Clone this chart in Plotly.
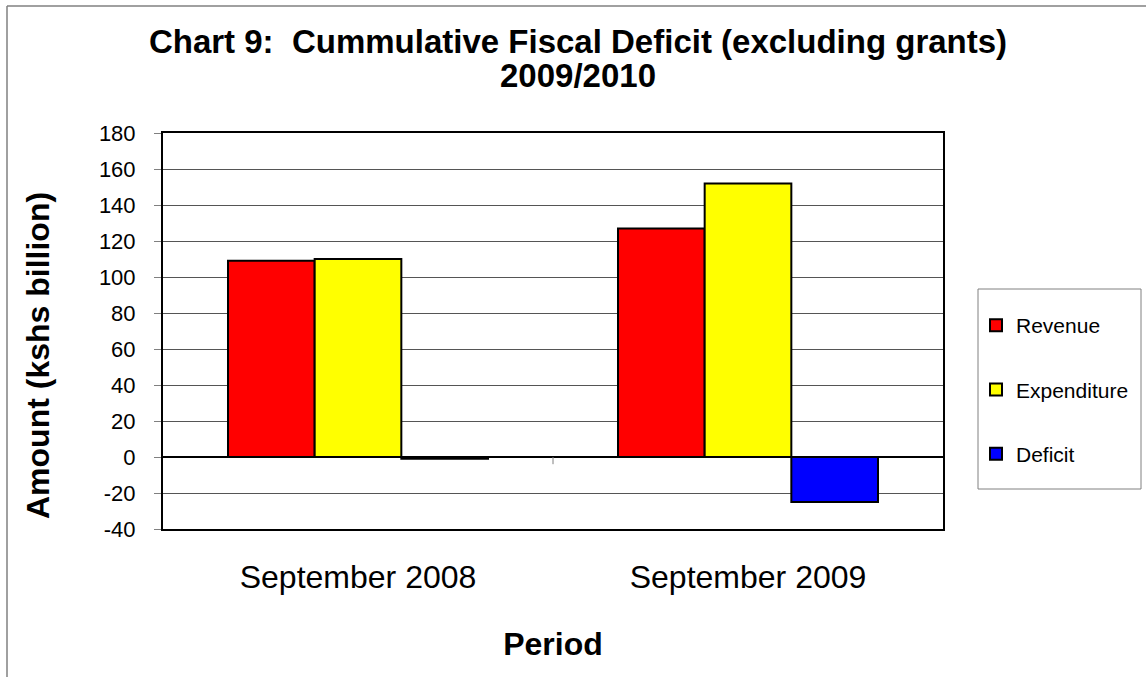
import plotly.graph_objects as go

periods = ["September 2008", "September 2009"]
revenue = [109, 127]
expenditure = [110, 152]
deficit = [-1, -25]

y_tick_vals = [-40, -20, 0, 20, 40, 60, 80, 100, 120, 140, 160, 180]
y_tick_text = ["-40", "-20", "0", "20", "40", "60", "80", "100", "120", "140", "160", "180"]

series = [("Revenue", revenue, "#FF0000"),
          ("Expenditure", expenditure, "#FFFF00"),
          ("Deficit", deficit, "#0000FF")]

FONT = "Liberation Sans, Arial, sans-serif"

fig = go.Figure()
for i, (name, vals, col) in enumerate(series):
    fig.add_trace(go.Bar(
        name=name, x=periods, y=vals,
        marker=dict(color=col, line=dict(color="black", width=2)),
        legendgroup=name,
    ))

L, R, T, B = 163, 1146 - 943, 133, 677 - 529
W, H = 1146 - L - R, 677 - T - B

def px_x(p):
    return (p - L) / W

def px_y(p):
    return (677 - B - p) / H

fig.update_layout(
    width=1146, height=677,
    margin=dict(l=L, r=R, t=T, b=B, autoexpand=False),
    paper_bgcolor="white", plot_bgcolor="white",
    barmode="group", bargap=1/3, bargroupgap=0,
    font=dict(family=FONT, color="black"),
    title=dict(
        text="<b>Chart 9:\u00a0\u00a0Cummulative Fiscal Deficit (excluding grants)</b>",
        x=578/1146, xanchor="center", xref="container",
        y=1 - 41/677, yanchor="middle", yref="container",
        font=dict(size=33, family=FONT, color="black"),
    ),
    annotations=[
        dict(text="<b>2009/2010</b>", xref="paper", yref="paper",
             x=px_x(578), y=px_y(75), xanchor="center", yanchor="middle",
             showarrow=False, font=dict(size=33, family=FONT, color="black")),
        dict(text="<b>Amount (kshs billion)</b>", xref="paper", yref="paper",
             x=px_x(38), y=px_y(355), xanchor="center", yanchor="middle",
             textangle=-90, showarrow=False,
             font=dict(size=32, family=FONT, color="black")),
    ],
    legend=dict(
        x=px_x(976), y=px_y(305), xanchor="left", yanchor="top",
        font=dict(size=21, family=FONT, color="black"),
        bgcolor="rgba(0,0,0,0)", borderwidth=0,
        tracegroupgap=34, itemwidth=30,
    ),
    showlegend=True,
    xaxis=dict(
        showline=True, mirror=True, linecolor="black", linewidth=2,
        ticks="", showgrid=False,
        tickfont=dict(size=32, family=FONT, color="black"),
        ticklabelstandoff=19,
        title=dict(text="<b>Period</b>", font=dict(size=32, family=FONT, color="black"), standoff=38),
    ),
    yaxis=dict(
        range=[-40, 180], tickmode="array", tickvals=y_tick_vals, ticktext=y_tick_text,
        showline=True, mirror=True, linecolor="black", linewidth=2,
        ticks="outside", ticklen=7, tickcolor="#808080", tickwidth=1,
        showgrid=True, gridcolor="#555555", gridwidth=1,
        zeroline=True, zerolinecolor="black", zerolinewidth=1.5,
        tickfont=dict(size=22, family=FONT, color="black"),
        ticklabelstandoff=14,
    ),
    shapes=[
        # outer chart border (left and top visible)
        dict(type="line", xref="paper", yref="paper",
             x0=px_x(7), x1=px_x(7), y0=px_y(700), y1=px_y(6),
             line=dict(color="#808080", width=1.5)),
        dict(type="line", xref="paper", yref="paper",
             x0=px_x(7), x1=px_x(1200), y0=px_y(6), y1=px_y(6),
             line=dict(color="#808080", width=1.5)),
        # legend box
        dict(type="rect", xref="paper", yref="paper",
             x0=px_x(978), x1=px_x(1141), y0=px_y(489), y1=px_y(289),
             line=dict(color="#808080", width=1), fillcolor="rgba(0,0,0,0)"),
        # category boundary tick on the zero axis
        dict(type="line", xref="x", yref="y", x0=0.5, x1=0.5, y0=0, y1=-4,
             line=dict(color="#808080", width=1)),
    ],
)

fig.write_html("out.html")
